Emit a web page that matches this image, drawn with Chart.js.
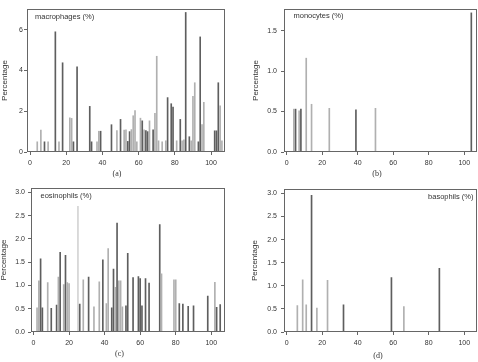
<!DOCTYPE html>
<html><head><meta charset="utf-8">
<script src="https://cdn.jsdelivr.net/npm/chart.js@4"></script>
<style>
html,body{margin:0;padding:0;background:#fff;}
body{width:478px;height:362px;position:relative;overflow:hidden;}
canvas{position:absolute;}
</style></head><body>
<canvas id="ca" style="left:0px;top:0px;width:239px;height:181px" width="239" height="181"></canvas>
<canvas id="cb" style="left:239px;top:0px;width:239px;height:181px" width="239" height="181"></canvas>
<canvas id="cc" style="left:0px;top:181px;width:239px;height:181px" width="239" height="181"></canvas>
<canvas id="cd" style="left:239px;top:181px;width:239px;height:181px" width="239" height="181"></canvas>
<script>
// ---- data ----
const xTicks = [0, 20, 40, 60, 80, 100];
const yTicksA = [0, 2, 4, 6];
const yTicksB = [0, 0.5, 1.0, 1.5];
const yTicksCD = [0, 0.5, 1.0, 1.5, 2.0, 2.5, 3.0];

const macroX = [4,6,8,10,14,16,18,22,23,24,26,33,34,37,38,39,45,48,50,52,53,54,55,56,57,58,59,61,62,63,64,65,66,68,69,70,71,73,75,76,78,79,81,83,84,85,86,88,89,90,91,93,94,95,96,102,103,104,105,106];
const macroY = [0.5,1.07,0.5,0.5,5.9,0.5,4.38,1.68,1.65,0.5,4.18,2.24,0.5,0.5,1.02,1.02,1.34,1.05,1.6,1.07,1.09,0.52,1.0,1.1,1.78,2.03,0.5,1.66,1.53,1.09,1.05,1.0,1.53,1.09,1.9,4.7,0.55,0.5,0.55,2.67,2.37,2.2,0.55,1.6,0.55,0.6,6.85,0.75,0.55,2.73,3.4,0.5,5.65,1.35,2.44,1.04,1.04,3.4,2.27,0.55];
const macroDark = [8,14,18,24,26,33,34,39,45,50,54,55,62,64,65,68,76,78,79,83,86,88,93,94,102,103,104];

const monoX = [4,5,7,8,11,14,24,39,50,104];
const monoY = [0.53,0.53,0.51,0.53,1.16,0.59,0.54,0.52,0.54,1.72];
const monoDark = [5,8,39,104];

const eosX = [2,3,4,5,8,10,13,14,15,17,18,19,20,25,26,28,31,34,37,39,41,42,44,45,46,47,48,49,50,52,53,56,59,60,61,63,65,71,72,79,80,82,84,87,90,98,102,103,105];
const eosY = [0.52,1.1,1.57,0.52,1.06,0.51,0.58,1.18,1.71,1.02,1.65,1.06,1.04,2.7,0.6,1.12,1.18,0.54,1.08,1.55,0.61,1.79,0.52,1.35,0.96,2.34,1.1,1.1,0.54,0.56,1.69,1.17,1.19,1.15,0.56,1.15,1.05,2.31,1.25,1.12,1.12,0.61,0.6,0.55,0.56,0.77,1.07,0.53,0.59];
const eosDark = [4,5,10,13,15,18,26,31,39,44,45,47,52,53,56,59,60,61,63,65,71,82,84,87,90,98,103,105];
const eosFaint = [25];

const basoX = [6,9,11,14,17,23,32,59,66,86];
const basoY = [0.57,1.13,0.59,2.96,0.52,1.12,0.59,1.18,0.55,1.38];
const basoDark = [14,32,59,86];

// ---- style ----
const DARK = '#5e5e5e', LIGHT = '#b0b0b0', FAINT = '#d4d4d4';
const AXIS = '#666666', TXT = '#333333';
const SANS = '"Liberation Sans", Arial, sans-serif';
const SERIF = '"Liberation Serif", "Times New Roman", serif';

const boxPlugin = {
  id: 'box',
  afterDatasetsDraw(chart) {
    const {ctx, chartArea: a} = chart;
    ctx.save();
    ctx.strokeStyle = AXIS; ctx.lineWidth = 1;
    const L = Math.round(a.left), R = Math.round(a.right), T = Math.round(a.top), B = Math.round(a.bottom);
    ctx.strokeRect(L + 0.5, T + 0.5, R - L - 1, B - T - 1);
    ctx.restore();
  },
  afterDraw(chart) {
    const labels = chart.options.plugins.box.labels || [];
    const ctx = chart.ctx;
    ctx.save();
    labels.forEach(l => {
      ctx.font = l.font; ctx.fillStyle = TXT;
      ctx.textAlign = l.align; ctx.textBaseline = 'middle';
      ctx.fillText(l.text, l.x, l.y);
    });
    ctx.restore();
  }
};

function makePanel(id, xs, ys, dark, faint, o) {
  const colors = xs.map(x => faint.includes(x) ? FAINT : (dark.includes(x) ? DARK : LIGHT));
  new Chart(document.getElementById(id), {
    type: 'bar',
    data: { datasets: [{ data: xs.map((x, i) => ({x: x, y: ys[i]})), backgroundColor: colors, borderWidth: 0, barThickness: 1, grouped: false }] },
    options: {
      responsive: false, animation: false, devicePixelRatio: 1,
      layout: { padding: o.pad },
      plugins: { legend: {display: false}, tooltip: {enabled: false}, box: { labels: o.labels } },
      scales: {
        x: {
          type: 'linear', min: o.xmin, max: o.xmax, offset: false,
          afterBuildTicks: s => { s.ticks = xTicks.map(v => ({value: v})); },
          afterFit: s => { s.height = o.xh; },
          grid: { drawOnChartArea: false, drawTicks: true, tickLength: 3, color: AXIS, offset: false },
          border: { display: false },
          ticks: { font: {family: SANS, size: 7}, color: TXT, padding: 4, maxRotation: 0, autoSkip: false }
        },
        y: {
          min: 0, max: o.ymax,
          afterBuildTicks: s => { s.ticks = o.yTicks.map(v => ({value: v})); },
          afterFit: s => { s.width = o.yw; },
          grid: { drawOnChartArea: false, drawTicks: true, tickLength: 3, color: AXIS },
          border: { display: false },
          ticks: { font: {family: SANS, size: 7}, color: TXT, padding: o.tpad, autoSkip: false,
                   callback: v => o.dec ? Number(v).toFixed(1) : String(v) },
          title: { display: true, text: 'Percentage', color: TXT, font: {family: SANS, size: 8, lineHeight: 1}, padding: {top: o.titlePad, bottom: 0} }
        }
      }
    },
    plugins: [boxPlugin]
  });
}

makePanel('ca', macroX, macroY, macroDark, [], {
  pad: {left: 0, right: 14, top: 9, bottom: 0}, yw: 27, xh: 29,
  xmin: -1.66, xmax: 107.7, ymax: 7.02, yTicks: yTicksA, dec: false, tpad: 1, titlePad: 1,
  labels: [
    {text: 'macrophages (%)', x: 35, y: 16.5, align: 'left', font: '7.5px ' + SANS},
    {text: '(a)', x: 117, y: 174, align: 'center', font: '8px ' + SERIF}
  ]
});
makePanel('cb', monoX, monoY, monoDark, [], {
  pad: {left: 0, right: 1, top: 9, bottom: 0}, yw: 45, xh: 29,
  xmin: -1.52, xmax: 107.2, ymax: 1.768, yTicks: yTicksB, dec: true, tpad: 4, titlePad: 12.5,
  labels: [
    {text: 'monocytes (%)', x: 293.5 - 239, y: 15.7, align: 'left', font: '7.5px ' + SANS},
    {text: '(b)', x: 377 - 239, y: 174, align: 'center', font: '8px ' + SERIF}
  ]
});
makePanel('cc', eosX, eosY, eosDark, eosFaint, {
  pad: {left: 0, right: 14, top: 7, bottom: 0}, yw: 31, xh: 30,
  xmin: -1.4, xmax: 107.7, ymax: 3.09, yTicks: yTicksCD, dec: true, tpad: 3, titlePad: 0,
  labels: [
    {text: 'eosinophils (%)', x: 40.5, y: 196 - 181, align: 'left', font: '7.5px ' + SANS},
    {text: '(c)', x: 119.5, y: 354 - 181, align: 'center', font: '8px ' + SERIF}
  ]
});
makePanel('cd', basoX, basoY, basoDark, [], {
  pad: {left: 0, right: 1, top: 7, bottom: 0}, yw: 45, xh: 30,
  xmin: -1.52, xmax: 107.2, ymax: 3.09, yTicks: yTicksCD, dec: true, tpad: 4, titlePad: 12,
  labels: [
    {text: 'basophils (%)', x: 473.5 - 239, y: 196.5 - 181, align: 'right', font: '7.5px ' + SANS},
    {text: '(d)', x: 378 - 239, y: 356 - 181, align: 'center', font: '8px ' + SERIF}
  ]
});
</script>
</body></html>
